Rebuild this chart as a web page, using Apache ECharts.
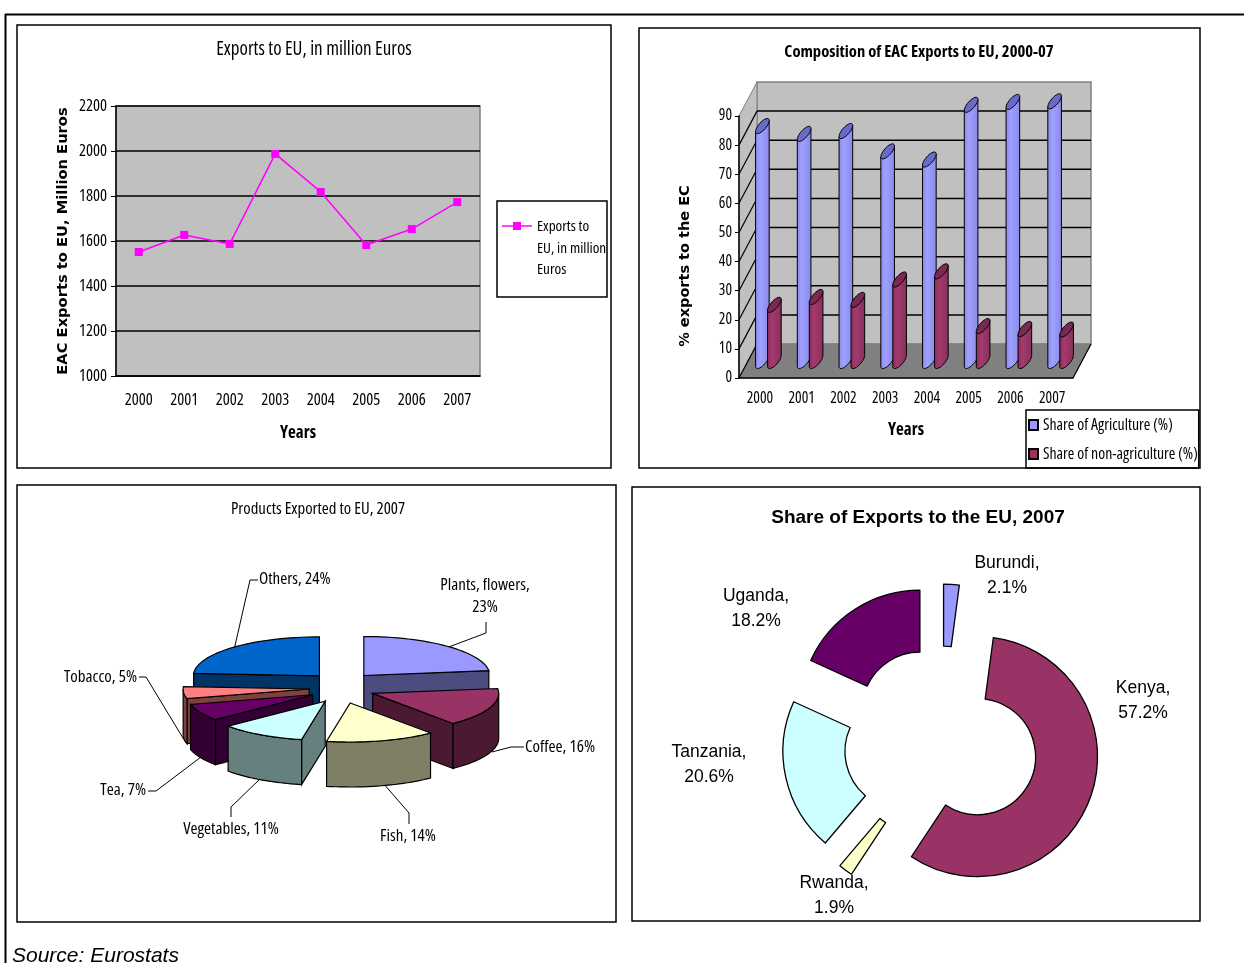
<!DOCTYPE html>
<html>
<head>
<meta charset="utf-8">
<style>
  html, body { margin: 0; padding: 0; background: #fff; overflow: hidden; }
  #chart { width: 1244px; height: 963px; }
</style>
<script src="https://cdn.jsdelivr.net/npm/echarts@6/dist/echarts.min.js"></script>
</head>
<body>
<div id="chart"></div>
<script>
// Trade figures, EAC exports to the EU
const years = ['2000', '2001', '2002', '2003', '2004', '2005', '2006', '2007'];
const exportsMillionEuros = [1551, 1627, 1587, 1987, 1818, 1582, 1653, 1773];
const agricultureShare = [80.7, 78, 79, 72, 69.2, 88, 89, 89.2];
const nonAgricultureShare = [19.3, 22, 21, 28, 30.8, 12, 11, 10.8];
const productNames = ['Plants, flowers', 'Coffee', 'Fish', 'Vegetables', 'Tea', 'Tobacco', 'Others'];
const productShares = [23, 16, 14, 11, 7, 5, 24];
const countryNames = ['Burundi', 'Kenya', 'Rwanda', 'Tanzania', 'Uganda'];
const countryShares = [2.1, 57.2, 1.9, 20.6, 18.2];

// Narrow lettering comes from the width axis of Open Sans
const NARROW = { fontFamily: '"Open Sans"', fontStyle: 'condensed' };
const narrowFont = (size, weight) => 'condensed ' + (weight ? weight + ' ' : '') + size + 'px "Open Sans"';
const SANS = '"Liberation Sans",Arial,sans-serif';
const WIDE = '"DejaVu Sans",sans-serif';
const WALL = '#C0C0C0';

// Colours of the exploded pie: top face, side face
const productTop = ['#9999FF', '#993366', '#FFFFCC', '#CCFFFF', '#660066', '#FF8080', '#0066CC'];
const productSide = ['#4C4C7F', '#4C1933', '#7F7F66', '#667F7F', '#330033', '#7F4040', '#003366'];
const countryColors = ['#9999FF', '#993366', '#FFFFCC', '#CCFFFF', '#660066'];

// Depth of the box behind the cylinder chart
const DEPTH_X = 18, DEPTH_Y = -34;

function wallsRender(params, api) {
  const c = params.coordSys;
  const v = api.value(0);
  const y = api.coord([0, v])[1];
  const x0 = c.x, x1 = c.x + c.width;
  const kids = [];
  if (v === 0) {
    const yb = c.y + c.height, yt = c.y;
    kids.push({ type: 'polygon', shape: { points: [[x0 + DEPTH_X, yt + DEPTH_Y], [x1 + DEPTH_X, yt + DEPTH_Y], [x1 + DEPTH_X, yb + DEPTH_Y], [x0 + DEPTH_X, yb + DEPTH_Y]] }, style: { fill: WALL, stroke: '#808080', lineWidth: 1.5 } });
    kids.push({ type: 'polygon', shape: { points: [[x0, yt], [x0 + DEPTH_X, yt + DEPTH_Y], [x0 + DEPTH_X, yb + DEPTH_Y], [x0, yb]] }, style: { fill: WALL, stroke: '#808080', lineWidth: 1 } });
    kids.push({ type: 'polygon', shape: { points: [[x0, yb], [x0 + DEPTH_X, yb + DEPTH_Y], [x1 + DEPTH_X, yb + DEPTH_Y], [x1, yb]] }, style: { fill: '#808080', stroke: '#808080', lineWidth: 1 } });
    kids.push({ type: 'line', shape: { x1: x1, y1: yb, x2: x1 + DEPTH_X, y2: yb + DEPTH_Y }, style: { stroke: '#000', lineWidth: 1.2 } });
    kids.push({ type: 'line', shape: { x1: x0, y1: yb, x2: x0 + DEPTH_X, y2: yb + DEPTH_Y }, style: { stroke: '#000', lineWidth: 1.2 } });
  } else if (v < 90) {
    kids.push({ type: 'line', shape: { x1: x0 + DEPTH_X, y1: y + DEPTH_Y, x2: x1 + DEPTH_X, y2: y + DEPTH_Y }, style: { stroke: '#000', lineWidth: 1.5 } });
    kids.push({ type: 'line', shape: { x1: x0, y1: y, x2: x0 + DEPTH_X, y2: y + DEPTH_Y }, style: { stroke: '#000', lineWidth: 1.2 } });
  }
  return { type: 'group', children: kids };
}

// A tilted cylinder standing half way into the box
function cylinderRender(shift, bodyStops, capColor) {
  return function (params, api) {
    const i = api.value(0), v = api.value(1);
    const cx = api.coord([i, v])[0] + DEPTH_X / 2 + shift;
    const topY = api.coord([i, v])[1] + DEPTH_Y / 2;
    const baseY = api.coord([i, 0])[1] + DEPTH_Y / 2;
    const rx = 6.8, tilt = 5.5, ry = 5.2;
    const pt = (y, t) => [cx + rx * Math.cos(t), y - tilt * Math.cos(t) + ry * Math.sin(t)];
    const cap = [], body = [pt(topY, Math.PI)];
    for (let k = 0; k < 32; k++) cap.push(pt(topY, k / 32 * 2 * Math.PI));
    for (let k = 0; k <= 16; k++) body.push(pt(baseY, Math.PI - k / 16 * Math.PI));
    body.push(pt(topY, 0));
    return {
      type: 'group',
      children: [
        { type: 'polygon', shape: { points: body }, style: { stroke: '#000', lineWidth: 1, fill: { type: 'linear', x: 0, y: 0, x2: 1, y2: 0, colorStops: bodyStops } } },
        { type: 'polygon', shape: { points: cap }, style: { fill: capColor, stroke: '#000', lineWidth: 1 } }
      ]
    };
  };
}

// Slices of the exploded 3D pie, angles measured clockwise from twelve o'clock
const PIE = { cx: 342, cy: 687.5, rx: 126, ry: 39, depth: 45, ex: 33, ey: 16 };
const pieDrawOrder = [0, 6, 5, 1, 4, 3, 2];

function pieRender(params, api) {
  const i = api.value(0);
  const total = productShares.reduce((a, b) => a + b, 0);
  let before = 0;
  for (let k = 0; k < i; k++) before += productShares[k];
  const a1 = before / total * 2 * Math.PI;
  const a2 = (before + productShares[i]) / total * 2 * Math.PI;
  const mid = (a1 + a2) / 2;
  const ox = PIE.cx + PIE.ex * Math.sin(mid), oy = PIE.cy - PIE.ey * Math.cos(mid);
  const at = (a) => [ox + PIE.rx * Math.sin(a), oy - PIE.ry * Math.cos(a)];
  const down = (p) => [p[0], p[1] + PIE.depth];
  const side = { fill: productSide[i], stroke: '#000', lineWidth: 1.2 };
  const kids = [];
  const face = (p) => kids.push({ type: 'polygon', shape: { points: [[ox, oy], p, down(p), [ox, oy + PIE.depth]] }, style: side });
  if (Math.cos(a1 - Math.PI / 2) < 0) face(at(a1));
  if (Math.cos(a2 + Math.PI / 2) < 0) face(at(a2));
  const from = Math.max(a1, Math.PI / 2), to = Math.min(a2, 1.5 * Math.PI);
  if (to > from) {
    const upper = [], lower = [];
    for (let k = 0; k <= 24; k++) {
      const p = at(from + (to - from) * k / 24);
      upper.push(p); lower.unshift(down(p));
    }
    kids.push({ type: 'polygon', shape: { points: upper.concat(lower) }, style: side });
  }
  const top = [[ox, oy]];
  for (let k = 0; k <= 32; k++) top.push(at(a1 + (a2 - a1) * k / 32));
  kids.push({ type: 'polygon', shape: { points: top }, style: { fill: productTop[i], stroke: '#000', lineWidth: 1.2 } });
  return { type: 'group', children: kids };
}

// Callouts round the 3D pie
const pieLabelSpots = [
  { x: 485, y: 596, align: 'center', wrap: true, path: [[446, 648], [486, 633], [486, 622]] },
  { x: 525, y: 747, align: 'left', path: [[492, 752], [511, 747], [524, 747]] },
  { x: 408, y: 836, align: 'center', path: [[383, 783], [409, 813], [409, 824]] },
  { x: 231, y: 829, align: 'center', path: [[261, 778], [231, 807], [231, 817]] },
  { x: 146, y: 790, align: 'right', path: [[201, 757], [156, 791], [148, 791]] },
  { x: 137, y: 677, align: 'right', path: [[186, 743], [146, 677], [139, 677]] },
  { x: 259, y: 579, align: 'left', path: [[234, 650], [250, 580], [258, 580]] }
];
const pieCallouts = [];
pieLabelSpots.forEach((s, i) => {
  pieCallouts.push({ type: 'polyline', silent: true, shape: { points: s.path }, style: { stroke: '#000', lineWidth: 1, fill: null } });
  pieCallouts.push({
    type: 'text', silent: true, x: s.x, y: s.y,
    style: {
      text: productNames[i] + ',' + (s.wrap ? '\n' : ' ') + productShares[i] + '%',
      fill: '#000', font: narrowFont(17), align: s.align, verticalAlign: 'middle', lineHeight: 22
    }
  });
});

// Country labels of the flat doughnut
const countryLabelSpots = [[1007, 576], [1143, 700.5], [834, 896], [709, 765], [756, 609]];
const countryLabels = countryLabelSpots.map((p, i) => ({
  type: 'text', silent: true, z: 10, x: p[0], y: p[1],
  style: { text: countryNames[i] + ',\n' + countryShares[i] + '%', font: '17.5px ' + SANS, fill: '#000', align: 'center', verticalAlign: 'middle', lineHeight: 25 }
}));

// Panel frames and page rules
const frame = (x, y, w, h) => ({ type: 'rect', silent: true, shape: { x, y, width: w, height: h }, style: { fill: null, stroke: '#000', lineWidth: 1.5 } });
const graphics = [
  frame(17, 25, 594, 443), frame(639, 28, 561, 440), frame(17, 485, 599, 437), frame(632, 487, 568, 434),
  { type: 'line', silent: true, shape: { x1: 5, y1: 14.5, x2: 1244, y2: 14.5 }, style: { stroke: '#000', lineWidth: 2 } },
  { type: 'line', silent: true, shape: { x1: 5.5, y1: 14, x2: 5.5, y2: 963 }, style: { stroke: '#000', lineWidth: 2 } },
  frame(497, 201, 110, 96),
  { type: 'line', silent: true, shape: { x1: 502, y1: 226, x2: 532, y2: 226 }, style: { stroke: '#FF00FF', lineWidth: 1.5 } },
  { type: 'rect', silent: true, shape: { x: 513, y: 222, width: 8, height: 8 }, style: { fill: '#FF00FF' } },
  { type: 'text', silent: true, x: 537, y: 216, style: { text: 'Exports to\nEU, in million\nEuros', font: narrowFont(15.2), fill: '#000', lineHeight: 21.5 } },
  { type: 'text', silent: true, x: 12, y: 946, style: { text: 'Source: Eurostats', font: 'italic 21px ' + SANS, fill: '#000' } }
].concat(pieCallouts, countryLabels);

const titleOf = (text, x, y, style) => ({
  text, left: x, top: y, textAlign: 'center', padding: 0,
  textStyle: Object.assign({ color: '#000', fontWeight: 'normal' }, style)
});

const option = {
  animation: false,
  backgroundColor: '#fff',
  graphic: graphics,
  title: [
    titleOf('Exports to EU, in million Euros', 314, 40, Object.assign({ fontSize: 19 }, NARROW)),
    titleOf('Composition of EAC Exports to EU, 2000-07', 919, 44, Object.assign({ fontSize: 16.6, fontWeight: 'bold' }, NARROW)),
    titleOf('Products Exported to EU, 2007', 318, 501, Object.assign({ fontSize: 16.8 }, NARROW)),
    titleOf('Share of Exports to the EU, 2007', 918, 508, { fontFamily: SANS, fontSize: 19, fontWeight: 'bold' })
  ],
  legend: [{
    left: 1026, top: 410, orient: 'vertical', padding: [7, 1, 6, 2], itemGap: 13, itemWidth: 9, itemHeight: 10,
    borderColor: '#000', borderWidth: 1.5, selectedMode: false, icon: 'rect',
    data: ['Share of Agriculture (%)', 'Share of non-agriculture (%)'],
    textStyle: Object.assign({ fontSize: 15.8, color: '#000' }, NARROW)
  }],
  grid: [
    { left: 116, top: 106, width: 364, height: 270, show: true, backgroundColor: WALL, borderColor: '#808080', borderWidth: 1.5 },
    { left: 739, top: 116, width: 334, height: 262 }
  ],
  xAxis: [
    {
      gridIndex: 0, type: 'category', data: years, name: 'Years', nameLocation: 'middle', nameGap: 49,
      nameTextStyle: Object.assign({ fontSize: 17, color: '#000' }, NARROW, { fontWeight: 'bold' }),
      axisLine: { lineStyle: { color: '#000', width: 1.5 } },
      axisTick: { length: 5, lineStyle: { color: '#000' } },
      axisLabel: Object.assign({ fontSize: 16.5, color: '#000', margin: 16, interval: 0 }, NARROW)
    },
    {
      gridIndex: 1, type: 'category', data: years, z: 3, name: 'Years', nameLocation: 'middle', nameGap: 44,
      nameTextStyle: Object.assign({ fontSize: 17, color: '#000' }, NARROW, { fontWeight: 'bold' }),
      axisLine: { lineStyle: { color: '#000', width: 1.5 } },
      axisTick: { length: 5, lineStyle: { color: '#000' } },
      axisLabel: Object.assign({ fontSize: 15.5, color: '#000', margin: 13, interval: 0 }, NARROW)
    }
  ],
  yAxis: [
    {
      gridIndex: 0, type: 'value', min: 1000, max: 2200, interval: 200, name: 'EAC Exports to EU, Million Euros',
      nameLocation: 'middle', nameGap: 45, nameRotate: 90,
      nameTextStyle: { fontFamily: WIDE, fontSize: 14.7, fontWeight: 'bold', color: '#000' },
      axisLine: { show: true, lineStyle: { color: '#000', width: 1.5 } },
      axisTick: { show: true, length: 5, lineStyle: { color: '#000' } },
      axisLabel: Object.assign({ fontSize: 16.5, color: '#000', margin: 9, padding: [3, 0, 0, 0], formatter: (v) => String(v) }, NARROW),
      splitLine: { lineStyle: { color: '#000', width: 1.5 } }
    },
    {
      gridIndex: 1, type: 'value', min: 0, max: 90, interval: 10, z: 3, name: '% exports to the EC',
      nameLocation: 'middle', nameGap: 46, nameRotate: 90,
      nameTextStyle: { fontFamily: WIDE, fontSize: 14.5, fontWeight: 'bold', color: '#000', padding: [0, 38, 0, 0] },
      axisLine: { show: true, lineStyle: { color: '#000', width: 1.5 } },
      axisTick: { show: true, length: 4, lineStyle: { color: '#000' } },
      axisLabel: Object.assign({ fontSize: 15.5, color: '#000', margin: 7, padding: [6, 0, 0, 0] }, NARROW),
      splitLine: { show: false }
    }
  ],
  series: [
    {
      name: 'Exports to EU, in million Euros', type: 'line', xAxisIndex: 0, yAxisIndex: 0, data: exportsMillionEuros,
      symbol: 'rect', symbolSize: 8, z: 4,
      lineStyle: { color: '#FF00FF', width: 1.5 }, itemStyle: { color: '#FF00FF' }
    },
    {
      type: 'custom', name: 'box', xAxisIndex: 1, yAxisIndex: 1, z: 1, silent: true,
      data: [[0], [10], [20], [30], [40], [50], [60], [70], [80], [90]],
      encode: { y: 0 }, renderItem: wallsRender
    },
    {
      type: 'custom', name: 'Share of Agriculture (%)', xAxisIndex: 1, yAxisIndex: 1, z: 2, silent: true,
      itemStyle: { color: '#9999FF', borderColor: '#000', borderWidth: 1 },
      data: agricultureShare.map((v, i) => [i, v]), encode: { x: 0, y: 1 },
      renderItem: cylinderRender(-6.5, [{ offset: 0, color: '#8A8AEE' }, { offset: 0.35, color: '#A0A0FF' }, { offset: 1, color: '#8888E8' }], '#6A6AC8')
    },
    {
      type: 'custom', name: 'Share of non-agriculture (%)', xAxisIndex: 1, yAxisIndex: 1, z: 2, silent: true,
      itemStyle: { color: '#993366', borderColor: '#000', borderWidth: 1 },
      data: nonAgricultureShare.map((v, i) => [i, v]), encode: { x: 0, y: 1 },
      renderItem: cylinderRender(5.5, [{ offset: 0, color: '#8C2E5C' }, { offset: 0.35, color: '#A33A6E' }, { offset: 1, color: '#88305C' }], '#7A2952')
    },
    {
      type: 'custom', name: 'Products', coordinateSystem: 'none', silent: true,
      data: pieDrawOrder.map((i) => [i, productShares[i]]),
      renderItem: pieRender
    },
    {
      type: 'pie', name: 'Share of exports', center: [941, 743], radius: [58, 120], startAngle: 90, clockwise: true,
      selectedMode: 'multiple', selectedOffset: 39, silent: true,
      itemStyle: { borderColor: '#000', borderWidth: 1.3 },
      select: { itemStyle: { borderColor: '#000', borderWidth: 1.3 } },
      label: { show: false },
      labelLine: { show: false },
      data: countryNames.map((name, i) => ({ name, value: countryShares[i], selected: true, itemStyle: { color: countryColors[i] } }))
    }
  ]
};

echarts.init(document.getElementById('chart'), null, { renderer: 'canvas' }).setOption(option);
</script>
</body>
</html>
